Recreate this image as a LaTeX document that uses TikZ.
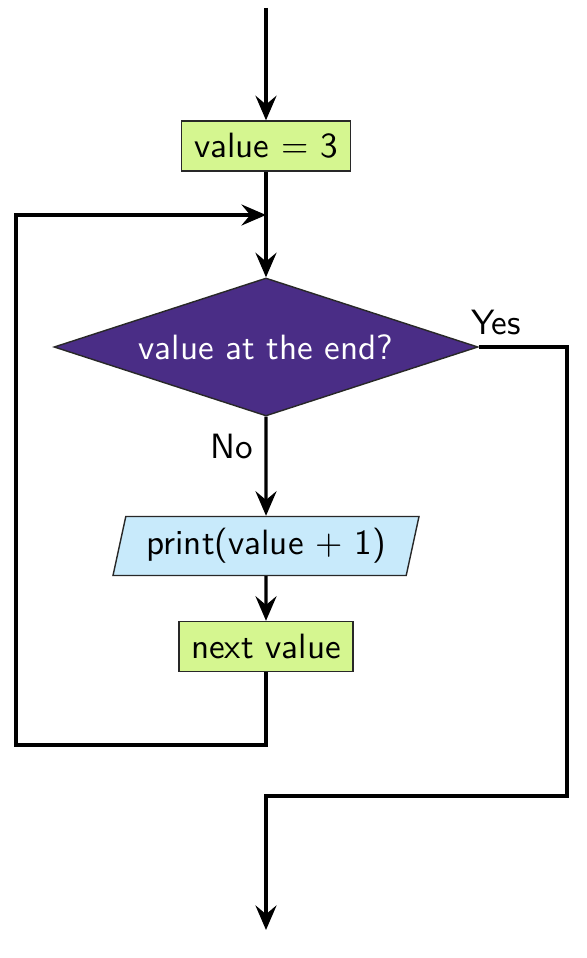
\documentclass[tikz,border=0pt]{standalone}
\usepackage{xcolor}
\definecolor{fcgreen}{RGB}{213,246,144}
\definecolor{fcblue}{RGB}{200,234,251}
\definecolor{fcpurple}{RGB}{74,45,134}
\definecolor{fcedge}{RGB}{40,40,40}
\usepackage{tikz}
\usetikzlibrary{arrows.meta, shapes.geometric}

\begin{document}
\begin{tikzpicture}[font=\sffamily,
  flowline/.style={line width=0.9pt, -{Stealth[length=7pt, width=6pt, inset=2.5pt]}},
  plainline/.style={line width=0.9pt},
  procbox/.style={draw=fcedge, fill=fcgreen, inner sep=0pt, minimum height=0.5cm},
  iobox/.style={trapezium, trapezium left angle=70, trapezium right angle=110, trapezium stretches body,
    draw=fcedge, fill=fcblue, inner sep=0pt, minimum width=3.06cm, minimum height=0.59cm},
  decbox/.style={diamond, aspect=3.07, draw=fcedge, fill=fcpurple, text=white, inner sep=0pt,
    minimum width=4.24cm, minimum height=1.38cm}]
  \useasboundingbox (0,0) rectangle (5.87,9.58);

  % --- Nodes ---
  \coordinate (start) at (2.66,9.50);
  \node[procbox, minimum width=1.69cm] (init) at (2.66,8.12) {value = 3};
  \coordinate (join) at (2.66,7.43);
  \node[decbox] (check) at (2.66,6.11) {value at the end?};
  \node[iobox] (print) at (2.66,4.12) {print(value + 1)};
  \node[procbox, minimum width=1.74cm] (next) at (2.66,3.115) {next value};
  \coordinate (stop) at (2.66,0.28);

  % Branch labels
  \node (yes) at (4.96,6.35) {Yes};
  \node (no) at (2.32,5.11) {No};

  % --- Connectors ---
  \draw[flowline] (start) -- (init);
  \draw[flowline] (init) -- (check);
  \draw[flowline] (check) -- (print);
  \draw[flowline] (print) -- (next);

  % Loop back
  \draw[flowline] (next.south) |- (0.16,2.13) |- (join);

  % Exit
  \draw[flowline] (check.east) -| (5.67,1.62) -| (stop);
\end{tikzpicture}
\end{document}
